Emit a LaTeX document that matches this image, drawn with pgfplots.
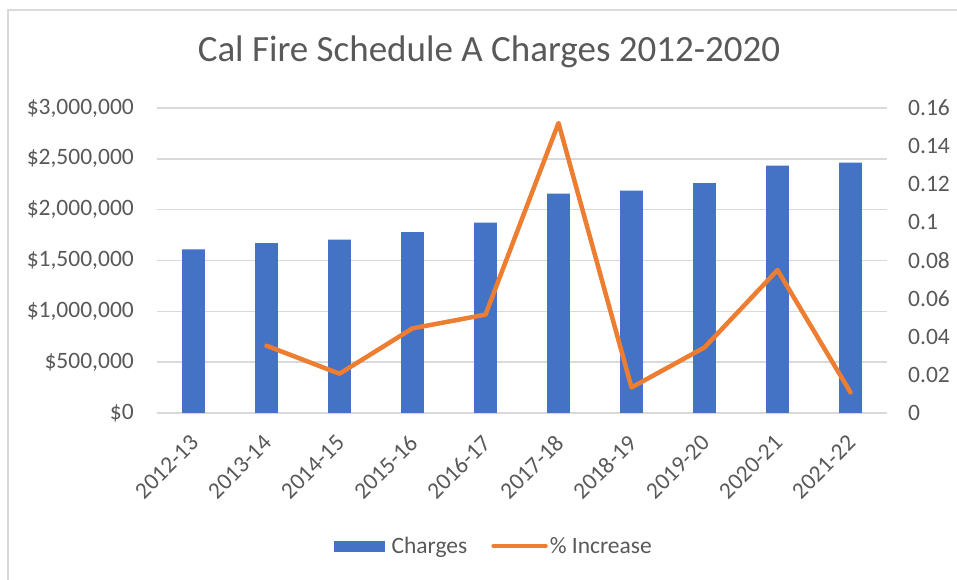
\documentclass[border=0pt]{standalone}
\usepackage{pgfplots}
\pgfplotsset{compat=1.18}
\usepackage{fontspec}
\setmainfont{Carlito}
\definecolor{barblue}{HTML}{4472C4}
\definecolor{lineorange}{HTML}{ED7D31}
\definecolor{txtgray}{HTML}{595959}
\definecolor{gridgray}{HTML}{D9D9D9}
\newcommand\tickfont{\fontsize{23.5bp}{28bp}\selectfont}
\begin{document}
\begin{tikzpicture}[x=1bp,y=1bp]
\useasboundingbox (0,0) rectangle (957,580);
\draw[gridgray, line width=1.5bp] (8,0) -- (8,570) -- (957,570);
\node[anchor=base, text=txtgray, inner sep=0pt, font=\fontsize{37bp}{44bp}\selectfont] at (489,518) {Cal Fire Schedule A Charges 2012-2020};

\begin{axis}[
  at={(157bp,167bp)}, anchor=south west,
  width=730bp, height=305bp, scale only axis,
  xmin=-0.5, xmax=9.5,
  ymin=0, ymax=3000000,
  scaled y ticks=false,
  xtick={0,...,9},
  xticklabels={2012-13,2013-14,2014-15,2015-16,2016-17,2017-18,2018-19,2019-20,2020-21,2021-22},
  ytick={0,500000,1000000,1500000,2000000,2500000,3000000},
  yticklabels={{\$0},{\$500,000},{\$1,000,000},{\$1,500,000},{\$2,000,000},{\$2,500,000},{\$3,000,000}},
  /pgf/number format/assume math mode=true,
  axis line style={draw=none},
  major tick length=0pt,
  ymajorgrids,
  grid style={gridgray, line width=1.5bp},
  yticklabel style={font=\tickfont, text=txtgray, inner sep=0pt, xshift=-23bp},
  xticklabel style={font=\tickfont, text=txtgray, inner sep=0pt, xshift=1bp, yshift=-26bp, rotate=45, anchor=east},
  ybar, bar width=22.7bp,
  clip=false,
]
\addplot[fill=barblue, draw=none] coordinates {
  (0,1609000) (1,1672000) (2,1705000) (3,1780000) (4,1872000)
  (5,2157000) (6,2187000) (7,2262000) (8,2432000) (9,2462000)
};
\end{axis}

\begin{axis}[
  at={(157bp,167bp)}, anchor=south west,
  width=730bp, height=305bp, scale only axis,
  xmin=-0.5, xmax=9.5,
  ymin=0, ymax=0.16,
  hide x axis,
  axis y line*=right,
  axis line style={draw=none},
  major tick length=0pt,
  ytick={0,0.02,0.04,0.06,0.08,0.1,0.12,0.14,0.16},
  yticklabels={0,0.02,0.04,0.06,0.08,0.1,0.12,0.14,0.16},
  /pgf/number format/assume math mode=true,
  yticklabel style={font=\tickfont, text=txtgray, inner sep=0pt, xshift=21bp, anchor=west},
  legend style={at={(0.4616,-0.436)}, anchor=center, draw=none, fill=none,
    legend columns=2, font=\tickfont, text=txtgray,
    /tikz/every even column/.append style={column sep=22bp}},
  clip=false,
]
\addlegendimage{legend image code/.code={\fill[barblue] (0bp,-5bp) rectangle (50bp,5bp); \path (55bp,0bp);}}
\addlegendentry{Charges}
\addplot[lineorange, line width=4.5bp, line cap=round, line join=round,
  legend image code/.code={\draw[lineorange, line width=4.5bp, line cap=round] (0bp,0bp) -- (52bp,0bp);}]
  coordinates {
  (1,0.0353) (2,0.0206) (3,0.0444) (4,0.0516) (5,0.1521)
  (6,0.0134) (7,0.0344) (8,0.0750) (9,0.0108)
};
\addlegendentry{\% Increase}
\end{axis}
\end{tikzpicture}
\end{document}
